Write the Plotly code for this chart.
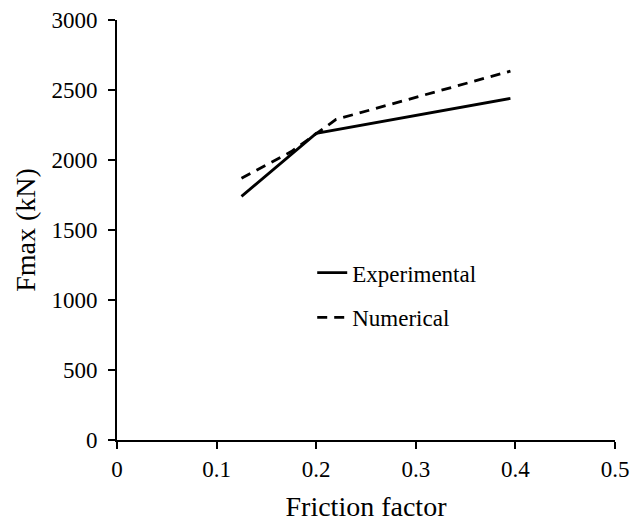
import plotly.graph_objects as go

exp_x = [0.125, 0.2, 0.395]
exp_y = [1740, 2190, 2440]
num_x = [0.125, 0.175, 0.22, 0.395]
num_y = [1870, 2060, 2290, 2635]

x_ticks = [0, 0.1, 0.2, 0.3, 0.4, 0.5]
x_labels = ["0", "0.1", "0.2", "0.3", "0.4", "0.5"]
y_ticks = [0, 500, 1000, 1500, 2000, 2500, 3000]

font = dict(family="Liberation Serif, Times New Roman, serif", size=23, color="black")
tfont = dict(family="Liberation Serif, Times New Roman, serif", size=23, color="black")

fig = go.Figure()
fig.add_trace(go.Scatter(x=exp_x, y=exp_y, mode="lines", name="Experimental",
                         legendgroup="a",
                         line=dict(color="black", width=2.8)))
fig.add_trace(go.Scatter(x=num_x, y=num_y, mode="lines", name="Numerical",
                         legendgroup="b",
                         line=dict(color="black", width=2.8, dash="10px,7px")))

fig.update_layout(
    width=633, height=524,
    margin=dict(l=117, r=18, t=20, b=84),
    paper_bgcolor="white", plot_bgcolor="white",
    font=font,
    showlegend=True,
    legend=dict(x=0.392, y=0.345, xanchor="left", yanchor="middle",
                bgcolor="rgba(0,0,0,0)", font=font,
                traceorder="grouped", tracegroupgap=12),
    xaxis=dict(range=[0, 0.5], tickvals=x_ticks, ticktext=x_labels,
               showgrid=False, zeroline=False, showline=True,
               linecolor="black", linewidth=2, ticks="outside",
               ticklen=7, tickwidth=2, tickcolor="black",
               ticklabeloverflow="allow", automargin=False,
               title=dict(text="Friction factor", standoff=16), tickfont=tfont),
    yaxis=dict(range=[0, 3000], tickvals=y_ticks,
               showgrid=False, zeroline=False, showline=True,
               linecolor="black", linewidth=2, ticks="outside",
               ticklen=7, tickwidth=2, tickcolor="black",
               ticklabelstandoff=6, automargin=False,
               title=dict(text="Fmax (kN)", standoff=8), tickfont=tfont),
)

fig.write_html("out.html")
